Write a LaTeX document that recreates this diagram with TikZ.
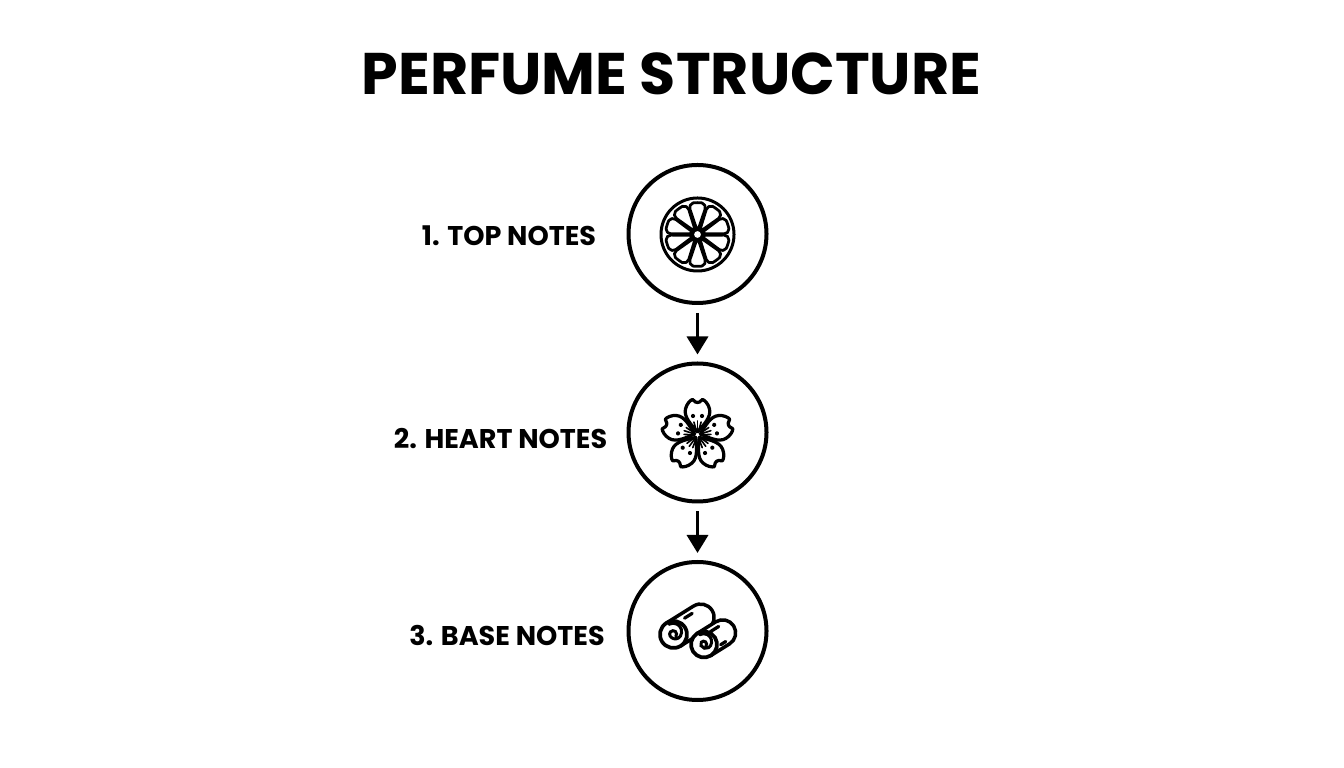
\documentclass[tikz,border=0pt]{standalone}
\usepackage{fontspec}
\setmainfont{Poppins}
\usepackage{tikz}
\usetikzlibrary{arrows.meta}

\begin{document}
\begin{tikzpicture}[node distance=3.97cm]
% Styles
\tikzstyle{heading} = [font=\fontsize{33.4}{40}\selectfont\bfseries, text=black, inner sep=0pt]
\tikzstyle{stage} = [circle, minimum size=2.76cm, draw=black, line width=0.08cm, fill=white, inner sep=0pt]
\tikzstyle{notes} = [font=\fontsize{15.4}{18}\selectfont\bfseries, text=black, inner sep=0pt]
\tikzstyle{arrow} = [line width=0.07cm, -{Triangle[length=0.36cm, width=0.42cm]}, shorten <=0.16cm, shorten >=0.14cm]
\tikzstyle{icon} = [draw=black, line width=0.055cm, fill=white, line join=round, line cap=round]

\useasboundingbox (0,0) rectangle (26.88,15.36);

\node (title) [heading] at (13.43,13.88) {PERFUME STRUCTURE};
\node (top_notes) [stage] at (13.95,10.68) {};
\node (heart_notes) [stage, below of=top_notes] {};
\node (base_notes) [stage, below of=heart_notes] {};

\node (top_label) [notes, left of=top_notes, yshift=-0.04cm, xshift=0.2cm] {1. TOP NOTES};
\node (heart_label) [notes, left of=heart_notes, yshift=-0.12cm, xshift=0.03cm] {2. HEART NOTES};
\node (base_label) [notes, left of=base_notes, yshift=-0.1cm, xshift=0.16cm] {3. BASE NOTES};

\draw [arrow] (top_notes) -- (heart_notes);
\draw [arrow] (heart_notes) -- (base_notes);

% citrus slice
\begin{scope}[shift={(top_notes.center)}, x=0.02cm, y=0.02cm, yshift=-0.01cm]
\draw [icon, line width=0.06cm] (0,0) circle (36.5);
\foreach \a in {18,54,...,342}
  \draw [icon, rounded corners=0.1cm] (\a:3) -- (\a-17:31.5) arc (\a-17:\a+17:31.5) -- cycle;
\draw [icon] (0,0) circle (5);
\end{scope}

% blossom
\begin{scope}[shift={(heart_notes.center)}, x=0.02cm, y=0.02cm, yshift=-0.05cm]
\foreach \a in {0,72,144,216,288} {
  \begin{scope}[rotate=\a]
  \draw [icon, line width=0.065cm] (0,3) .. controls (-6,10) and (-14,18) .. (-12,26)
    .. controls (-11,31) and (-7,35) .. (-5,35.5) -- (-2,33) -- (0,32.5) -- (2,33) -- (5,35.5)
    .. controls (7,35) and (11,31) .. (12,26) .. controls (14,18) and (6,10) .. (0,3) -- cycle;
  \fill (-4.5,19) circle (2.1);
  \fill (4.5,19) circle (2.1);
  \draw [black, line width=0.032cm, line cap=round] (0,3) -- (0,14);
  \draw [black, line width=0.032cm, line cap=round] (-0.8,3) -- (-3.6,13);
  \draw [black, line width=0.032cm, line cap=round] (0.8,3) -- (3.6,13);
  \end{scope}
}
\fill [white] (0,0) circle (1.8);
\end{scope}

% logs
\begin{scope}[shift={(base_notes.center)}, x=0.02cm, y=0.02cm]
\begin{scope}[shift={(-24,-3.5)}, rotate=32]
\draw [icon, line width=0.07cm] (0,13.5) -- (32,13.5) arc (90:-90:13.5) -- (0,-13.5) -- cycle;
\draw [icon, line width=0.065cm] (18,8) -- (27,8);
\draw [icon, line width=0.075cm] (0,0) circle (13.5);
\end{scope}
\draw [black, line width=0.06cm, line cap=round] (-24,-3.5) ++(-40:3) arc (-40:210:3.5) arc (210:330:6) arc (-30:120:8.5);
\begin{scope}[shift={(6.5,-13.5)}, rotate=32]
\draw [icon, line width=0.07cm] (0,13) -- (22,13) arc (90:-90:13) -- (0,-13) -- cycle;
\draw [icon, line width=0.065cm] (12,7.5) -- (22,7.5);
\draw [icon, line width=0.065cm] (14,-9) -- (20,-9);
\draw [icon, line width=0.075cm] (0,0) circle (13);
\end{scope}
\draw [black, line width=0.06cm, line cap=round] (6.5,-13.5) ++(-40:2.5) arc (-40:210:3) arc (210:330:5.5) arc (-30:120:8);
\end{scope}

\end{tikzpicture}
\end{document}
